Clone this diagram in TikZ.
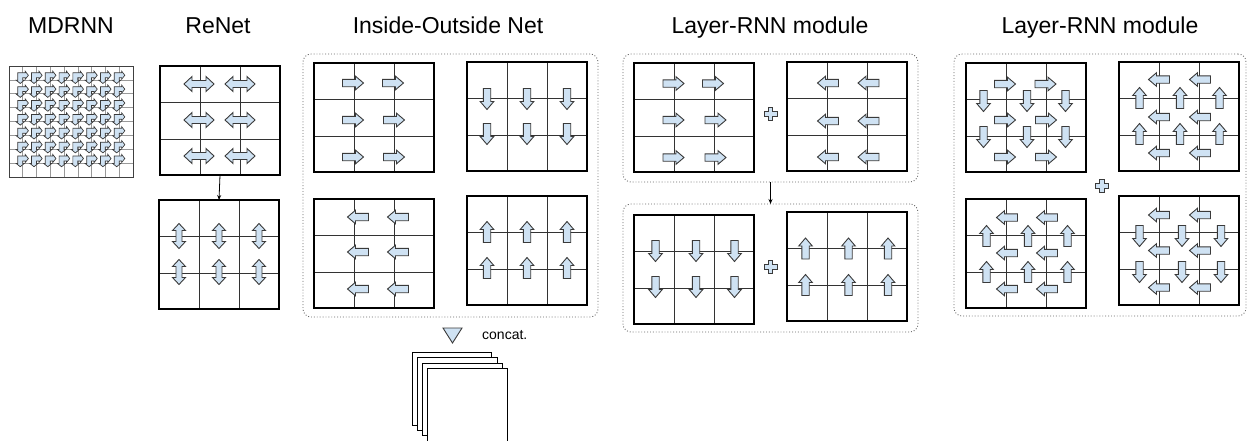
\documentclass[tikz,border=0pt]{standalone}
\usepackage{fontspec}
\setmainfont{Liberation Sans}
\usetikzlibrary{arrows.meta}
\definecolor{afill}{HTML}{CFE2F3}
\definecolor{aline}{HTML}{3A3A3A}
\tikzset{
  barrow/.style={fill=afill, draw=aline, line width=0.9pt, line join=miter},
  panelbox/.style={draw=black, line width=1.2pt, minimum width=120pt, minimum height=109pt, anchor=north west, inner sep=0pt, outer sep=0pt},
  innerline/.style={draw=black!80, line width=0.9pt},
  mdline/.style={draw=black!40, line width=0.7pt},
  groupbox/.style={draw=black!60, dotted, line width=0.9pt, rounded corners=8pt, anchor=north west, inner sep=0pt, outer sep=0pt},
  title/.style={font=\fontsize{23}{27}\selectfont, anchor=base, inner sep=0pt},
  conn/.style={draw=black, line width=0.8pt, -{Stealth[length=5pt,width=4pt]}},
  stackrect/.style={draw=black, fill=white, line width=0.8pt},
  pics/rarr/.style={code={\draw[barrow] (-10.5,-3.7) -- (2.5,-3.7) -- (2.5,-6.8) -- (10.5,0) -- (2.5,6.8) -- (2.5,3.7) -- (-10.5,3.7) -- cycle;}},
  pics/dharr/.style={code={\draw[barrow] (-15,0) -- (-7,-7.5) -- (-7,-3.5) -- (7,-3.5) -- (7,-7.5) -- (15,0) -- (7,7.5) -- (7,3.5) -- (-7,3.5) -- (-7,7.5) -- cycle;}},
  pics/dvarr/.style={code={\draw[barrow] (0,-12.5) -- (6.5,-5.5) -- (3,-5.5) -- (3,5.5) -- (6.5,5.5) -- (0,12.5) -- (-6.5,5.5) -- (-3,5.5) -- (-3,-5.5) -- (-6.5,-5.5) -- cycle;}},
  pics/plussign/.style={code={\draw[barrow] (-2.2,-6.5) -- (2.2,-6.5) -- (2.2,-2.2) -- (6.5,-2.2) -- (6.5,2.2) -- (2.2,2.2) -- (2.2,6.5) -- (-2.2,6.5) -- (-2.2,2.2) -- (-6.5,2.2) -- (-6.5,-2.2) -- (-2.2,-2.2) -- cycle;}},
  pics/bent/.style={code={\draw[fill=afill, draw=aline, line width=0.7pt, line join=miter] (-5,-7.1) -- (2.4,-7.1) -- (2.4,-8.7) -- (5.6,-4.6) -- (2.4,-0.6) -- (2.4,-2.2) -- (-0.1,-2.2) -- (-0.1,0.3) -- (1.5,0.3) -- (-2.55,3.6) -- (-6.6,0.3) -- (-5,0.3) -- cycle;}},
}
\newcommand\gpanel[3]{%
  \node[panelbox] (#1) at (#2,#3) {};
  \draw[innerline] (#2+40,#3) -- (#2+40,#3+109) (#2+80,#3) -- (#2+80,#3+109)
    (#2,#3+36.5) -- (#2+120,#3+36.5) (#2,#3+73) -- (#2+120,#3+73);
  \node[panelbox, fill=none] at (#2,#3) {};
}
\begin{document}
\begin{tikzpicture}[x=1pt, y=-1pt]
\useasboundingbox (0,0) rectangle (1247,440);

% titles
\node[title] (tMD) at (71,33) {MDRNN};
\node[title] (tRN) at (218,33) {ReNet};
\node[title] (tIO) at (448,33) {Inside-Outside Net};
\node[title] (tLA) at (770,33) {Layer-RNN module};
\node[title] (tLB) at (1100,33) {Layer-RNN module};

% MDRNN
\node[draw=black!75, line width=1pt, minimum width=124pt, minimum height=111pt, anchor=north west, inner sep=0pt] (md) at (9,66) {};
\foreach \k in {1,...,8} \draw[mdline] (9+\k*124/9,66) -- ++(0,111);
\foreach \k in {1,...,7} \draw[mdline] (9,66+\k*111/8) -- ++(124,0);
\node[draw=black!75, line width=1pt, minimum width=124pt, minimum height=111pt, anchor=north west, inner sep=0pt] at (9,66) {};
\foreach \i in {1,...,8} \foreach \j in {1,...,7} \pic at (9+\i*124/9, 66+\j*111/8) {bent};

% ReNet
\gpanel{rnA}{160}{66}
\gpanel{rnB}{159}{200}
\draw[conn] (rnA.south) -- (rnB.north);
\foreach \p in {(199,84),(240,84),(199,120),(240,120),(199,156),(240,156)} \pic at \p {dharr};
\foreach \p in {(179,236),(219,236),(259,236),(179,272),(219,272),(259,272)} \pic at \p {dvarr};

% Inside-Outside Net
\node[groupbox, minimum width=295pt, minimum height=263pt] (ioG) at (303,54) {};
\gpanel{ioA}{314}{63}
\gpanel{ioB}{467}{62}
\gpanel{ioC}{314}{199}
\gpanel{ioD}{467}{196}
\foreach \p in {(353,83),(393,83),(353,120),(394,120),(353,157),(394,157)} \pic at \p {rarr};
\foreach \p in {(487,99),(527,99),(567,99),(487,134),(527,134),(567,134)} \pic[rotate=-90] at \p {rarr};
\foreach \p in {(358,217),(398,217),(358,252),(398,252),(358,289),(398,289)} \pic[rotate=180] at \p {rarr};
\foreach \p in {(487,232),(527,232),(567,232),(487,268),(527,268),(567,268)} \pic[rotate=90] at \p {rarr};
\draw[barrow] (443,328) -- (462,328) -- (452.5,343) -- cycle;
\node[font=\fontsize{14}{16}\selectfont, anchor=base west, inner sep=0pt] (cc) at (482,339) {concat.};
\draw[stackrect] (412,352) rectangle (491,425);
\draw[stackrect] (417,357) rectangle (497,430);
\draw[stackrect] (422,363) rectangle (502,435);
\draw[stackrect] (427,368) rectangle (507,441);

% Layer-RNN module 1
\node[groupbox, minimum width=295pt, minimum height=128pt] (lrA) at (623,54) {};
\node[groupbox, minimum width=295pt, minimum height=128pt] (lrB) at (623,204) {};
\draw[conn] (lrA.south) -- (lrB.north);
\gpanel{lrAa}{634}{63}
\gpanel{lrAb}{787}{62}
\gpanel{lrBa}{634}{215}
\gpanel{lrBb}{787}{212}
\foreach \p in {(673.5,83.5),(713,83.5),(673.5,120),(715.5,120),(673.5,157.5),(715.5,157.5)} \pic at \p {rarr};
\foreach \p in {(828,83),(868.5,83),(828,121),(868.5,121),(828,157),(868.5,157)} \pic[rotate=180] at \p {rarr};
\foreach \p in {(655.5,251),(696,251),(734.5,251),(655.5,287),(696,287),(734.5,287)} \pic[rotate=-90] at \p {rarr};
\foreach \p in {(805.5,248.5),(848.5,248.5),(888,248.5),(805.5,285),(848.5,285),(888,285)} \pic[rotate=90] at \p {rarr};
\pic at (770.5,114) {plussign};
\pic at (770.5,267) {plussign};

% Layer-RNN module 2
\node[groupbox, minimum width=292pt, minimum height=262pt] (lrC) at (954,54) {};
\gpanel{lrCa}{966}{63}
\gpanel{lrCb}{1119}{62}
\gpanel{lrCc}{966}{199}
\gpanel{lrCd}{1119}{196}
\foreach \p in {(1005,84),(1045.5,84),(1005,120),(1046,120),(1005,157),(1046,157)} \pic at \p {rarr};
\foreach \p in {(983.5,101),(1027,101),(1065.5,101),(983.5,137),(1027,137),(1065.5,137)} \pic[rotate=-90] at \p {rarr};
\foreach \p in {(1159,79.5),(1200,79.5),(1159,117),(1200,117),(1159,153),(1200,153)} \pic[rotate=180] at \p {rarr};
\foreach \p in {(1139.5,98),(1180,98),(1219.5,98),(1139.5,134),(1180,134),(1219.5,134)} \pic[rotate=90] at \p {rarr};
\foreach \p in {(1007,217.5),(1047,217.5),(1007,253),(1047,253),(1007,289),(1047,289)} \pic[rotate=180] at \p {rarr};
\foreach \p in {(986.5,236),(1028,236),(1067.5,236),(986.5,272),(1028,272),(1067.5,272)} \pic[rotate=90] at \p {rarr};
\foreach \p in {(1159,215),(1200,215),(1159,250.5),(1200,250.5),(1159,287.5),(1200,287.5)} \pic[rotate=180] at \p {rarr};
\foreach \p in {(1139.5,236),(1182,236),(1221,236),(1139.5,272),(1182,272),(1221,272)} \pic[rotate=-90] at \p {rarr};
\pic at (1102,186) {plussign};
\end{tikzpicture}
\end{document}
